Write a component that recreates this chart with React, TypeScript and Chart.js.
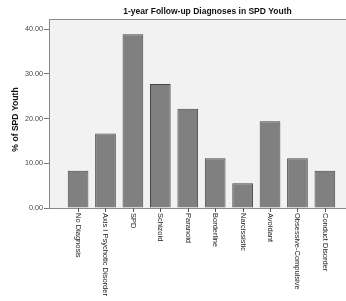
import React, { useEffect, useRef } from "react";
import { Chart, registerables } from "chart.js";

Chart.register(...registerables);

const chartTitle = "1-year Follow-up Diagnoses in SPD Youth";
const yAxisTitle = "% of SPD Youth";
const categories = [
  "No Diagnosis",
  "Axis I Psychotic Disorder",
  "SPD",
  "Schizoid",
  "Paranoid",
  "Borderline",
  "Narcissistic",
  "Avoidant",
  "Obsessive-Compulsive",
  "Conduct Disorder",
];
const percentages = [8.33, 16.67, 38.89, 27.78, 22.22, 11.11, 5.56, 19.44, 11.11, 8.33];
const yTicks = [0, 10, 20, 30, 40];

const FONT = "'Liberation Sans', Arial, Helvetica, sans-serif";

const decorPlugin = {
  id: "decor",
  beforeDraw(chart: any) {
    const { ctx, chartArea } = chart;
    ctx.save();
    ctx.fillStyle = "#f2f2f2";
    ctx.fillRect(chartArea.left, chartArea.top, chartArea.right - chartArea.left, chartArea.bottom - chartArea.top);
    ctx.strokeStyle = "#8a8a8a";
    ctx.lineWidth = 1;
    ctx.beginPath();
    ctx.moveTo(chartArea.left, chartArea.top + 0.5);
    ctx.lineTo(chartArea.right, chartArea.top + 0.5);
    ctx.stroke();
    ctx.restore();
  },
  afterDraw(chart: any) {
    const { ctx, chartArea } = chart;
    const xs = chart.scales.x;
    ctx.save();
    ctx.font = `bold 8.5px ${FONT}`;
    ctx.fillStyle = "#111";
    ctx.textAlign = "center";
    ctx.textBaseline = "middle";
    ctx.fillText(chartTitle, (chartArea.left + chartArea.right) / 2 + 10, 12);
    // y-axis title
    ctx.save();
    ctx.translate(16, (chartArea.top + chartArea.bottom) / 2 + 6);
    ctx.rotate(-Math.PI / 2);
    ctx.font = `bold 8.6px ${FONT}`;
    ctx.fillText(yAxisTitle, 0, 0);
    ctx.restore();
    // x ticks and labels
    ctx.strokeStyle = "#555";
    ctx.lineWidth = 1;
    ctx.font = `7.5px ${FONT}`;
    ctx.fillStyle = "#222";
    ctx.textAlign = "left";
    categories.forEach((label, i) => {
      const x = Math.round(xs.getPixelForValue(i)) + 0.5;
      ctx.beginPath();
      ctx.moveTo(x, chartArea.bottom);
      ctx.lineTo(x, chartArea.bottom + 4);
      ctx.stroke();
      ctx.save();
      ctx.translate(x, chartArea.bottom + 5);
      ctx.rotate(Math.PI / 2);
      ctx.textBaseline = "middle";
      ctx.fillText(label, 0, 0);
      ctx.restore();
    });
    ctx.restore();
  },
};

export default function App() {
  const ref = useRef<HTMLCanvasElement | null>(null);
  useEffect(() => {
    if (!ref.current) return;
    const chart = new Chart(ref.current, {
      type: "bar",
      data: {
        datasets: [
          {
            data: percentages.map((v, i) => ({ x: i, y: v })),
            backgroundColor: "#808080",
            borderColor: "#474747",
            borderWidth: 1,
            barPercentage: 0.755,
            categoryPercentage: 1,
          },
        ],
      },
      options: {
        animation: false,
        responsive: true,
        maintainAspectRatio: false,
        layout: { padding: { top: 19, right: 0, left: 0, bottom: 0 } },
        plugins: { legend: { display: false }, tooltip: { enabled: false }, title: { display: false } },
        scales: {
          x: {
            type: "linear",
            offset: false,
            min: -1.06,
            max: 9.77,
            ticks: { display: false },
            grid: { display: false },
            border: { display: true, color: "#8a8a8a" },
            afterFit(scale: any) {
              scale.height = 93;
            },
          },
          y: {
            min: 0,
            max: 42.3,
            afterBuildTicks(scale: any) {
              scale.ticks = yTicks.map((v) => ({ value: v }));
            },
            ticks: {
              font: { family: FONT, size: 7.2 },
              color: "#444",
              padding: 1,
              callback: (v: any) => Number(v).toFixed(2),
            },
            grid: { drawOnChartArea: false, drawTicks: true, tickLength: 5, color: "#777" },
            border: { display: true, color: "#8a8a8a" },
            title: { display: false },
            afterFit(scale: any) {
              scale.width = 49;
            },
          },
        },
      },
      plugins: [decorPlugin],
    });
    return () => chart.destroy();
  }, []);
  return (
    <div style={{ position: "fixed", left: 0, top: 0, width: 346, height: 301, background: "#fff" }}>
      <canvas ref={ref} />
    </div>
  );
}
